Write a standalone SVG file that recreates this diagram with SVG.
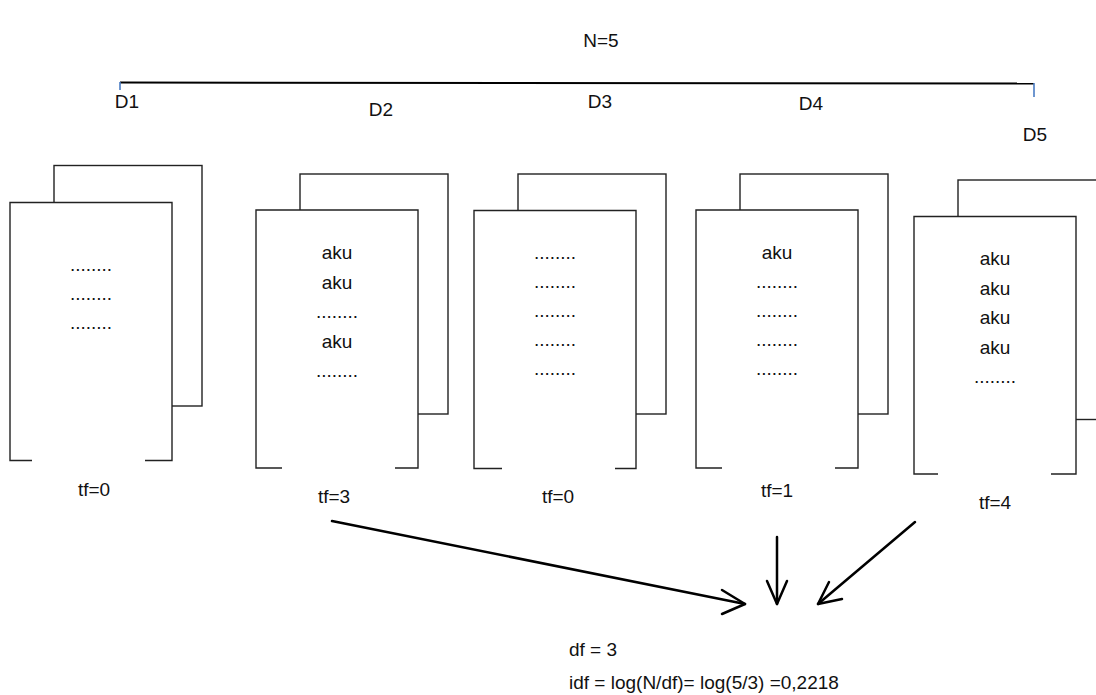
<svg xmlns="http://www.w3.org/2000/svg" width="1096" height="695" viewBox="0 0 1096 695">
  <defs>
    <style>
      text { font-family: "Liberation Sans", Arial, sans-serif; font-size: 19px; fill: #111; }
      .mid { text-anchor: middle; }
      .page { fill: #fff; stroke: #222; stroke-width: 1.4; }
      .edge { fill: none; stroke: #222; stroke-width: 1.4; }
      .arrow { fill: none; stroke: #000; stroke-width: 2.5; stroke-linecap: round; stroke-linejoin: round; }
      .tick { stroke: #4a7cc4; stroke-width: 1.6; }
    </style>
  </defs>
  <rect width="1096" height="695" fill="#fff"/>

  <!-- collection size and span bracket -->
  <g id="collection">
    <text x="601" y="47" class="mid">N=5</text>
    <line x1="120" y1="82.5" x2="1034" y2="83.5" stroke="#000" stroke-width="2"/>
    <line x1="120" y1="82" x2="120" y2="90" class="tick"/>
    <line x1="1034" y1="83" x2="1034" y2="97" class="tick"/>
  </g>

  <!-- D1 -->
  <g id="doc-d1">
    <text x="127" y="108" class="mid">D1</text>
    <rect x="54" y="165.5" width="148" height="240.5" class="page"/>
    <rect x="10" y="202.5" width="162" height="258" fill="#fff" stroke="none"/>
    <path d="M32 460.5 H10 V202.5 H172 V460.5 H145" class="edge"/>
    <text x="91" y="271" class="mid">........</text>
    <text x="91" y="300" class="mid">........</text>
    <text x="91" y="329" class="mid">........</text>
    <text x="94" y="496" class="mid">tf=0</text>
  </g>

  <!-- D2 -->
  <g id="doc-d2">
    <text x="381" y="116" class="mid">D2</text>
    <rect x="300" y="174" width="148" height="240" class="page"/>
    <rect x="256" y="210" width="162" height="258" fill="#fff" stroke="none"/>
    <path d="M282 468 H256 V210 H418 V468 H395" class="edge"/>
    <text x="337" y="259" class="mid">aku</text>
    <text x="337" y="288.5" class="mid">aku</text>
    <text x="337" y="318" class="mid">........</text>
    <text x="337" y="347.5" class="mid">aku</text>
    <text x="337" y="377" class="mid">........</text>
    <text x="334" y="503" class="mid">tf=3</text>
  </g>

  <!-- D3 -->
  <g id="doc-d3">
    <text x="600" y="108" class="mid">D3</text>
    <rect x="518" y="174" width="148" height="240" class="page"/>
    <rect x="474" y="210.5" width="162" height="258" fill="#fff" stroke="none"/>
    <path d="M502 468.5 H474 V210.5 H636 V468.5 H615" class="edge"/>
    <text x="555" y="259" class="mid">........</text>
    <text x="555" y="288" class="mid">........</text>
    <text x="555" y="317" class="mid">........</text>
    <text x="555" y="346" class="mid">........</text>
    <text x="555" y="375" class="mid">........</text>
    <text x="558" y="503" class="mid">tf=0</text>
  </g>

  <!-- D4 -->
  <g id="doc-d4">
    <text x="811" y="110" class="mid">D4</text>
    <rect x="740" y="174" width="148" height="240" class="page"/>
    <rect x="696" y="210" width="162" height="258" fill="#fff" stroke="none"/>
    <path d="M722 468 H696 V210 H858 V468 H835" class="edge"/>
    <text x="777" y="259" class="mid">aku</text>
    <text x="777" y="288" class="mid">........</text>
    <text x="777" y="317" class="mid">........</text>
    <text x="777" y="346" class="mid">........</text>
    <text x="777" y="375" class="mid">........</text>
    <text x="777" y="497" class="mid">tf=1</text>
  </g>

  <!-- D5 (back page runs off the right edge) -->
  <g id="doc-d5">
    <text x="1035" y="141" class="mid">D5</text>
    <rect x="958" y="180" width="148" height="239.5" class="page"/>
    <rect x="914" y="216.5" width="162" height="257.5" fill="#fff" stroke="none"/>
    <path d="M938 474 H914 V216.5 H1076 V474 H1051" class="edge"/>
    <text x="995" y="265" class="mid">aku</text>
    <text x="995" y="294.5" class="mid">aku</text>
    <text x="995" y="324" class="mid">aku</text>
    <text x="995" y="353.5" class="mid">aku</text>
    <text x="995" y="383" class="mid">........</text>
    <text x="995" y="509" class="mid">tf=4</text>
  </g>

  <!-- arrows gathering the documents that contain the term -->
  <g id="connectors">
    <path d="M332 521 L745 604" class="arrow"/>
    <path d="M722 590 L745 604 L722 614" class="arrow"/>
    <path d="M777 537 L777 604" class="arrow"/>
    <path d="M767 581 L777 604 L787 581" class="arrow"/>
    <path d="M915 522 L818 604" class="arrow"/>
    <path d="M829 582 L818 604 L842 599" class="arrow"/>
  </g>

  <!-- result -->
  <g id="result">
    <text x="569" y="656">df = 3</text>
    <text x="569" y="689">idf = log(N/df)= log(5/3) =0,2218</text>
  </g>
</svg>
